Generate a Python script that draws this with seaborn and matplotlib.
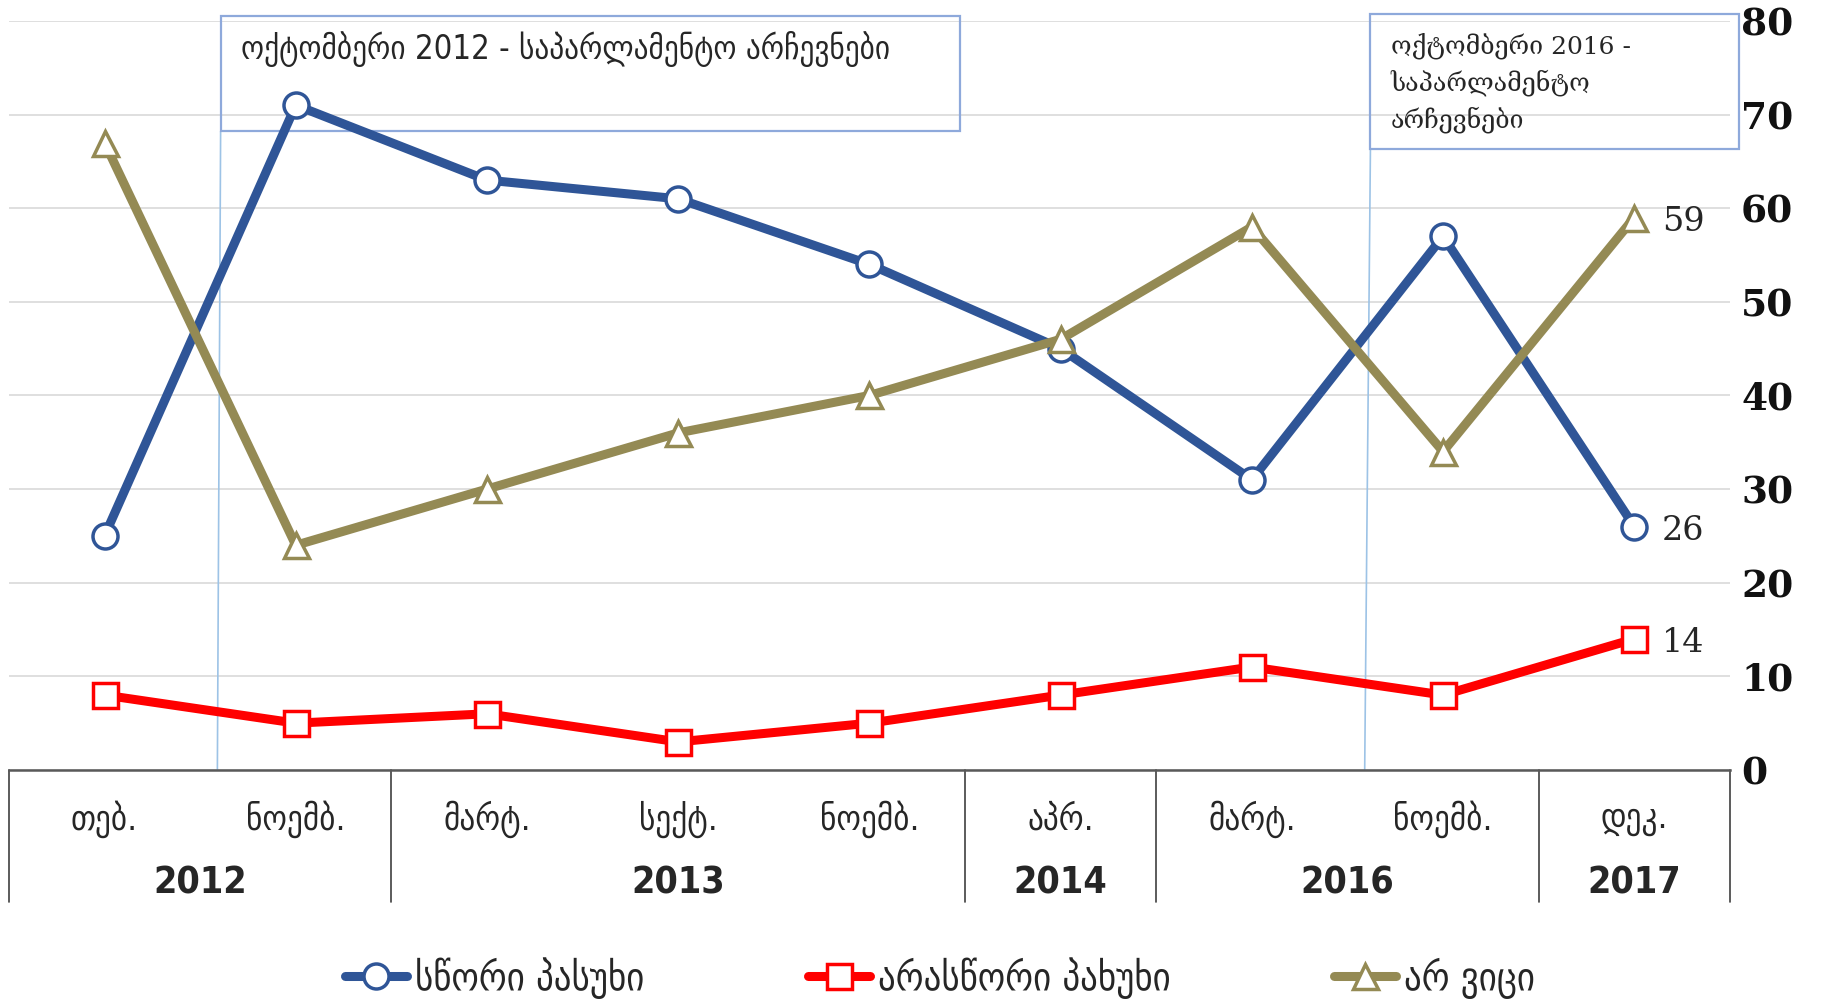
import numpy as np
import pandas as pd
import matplotlib
matplotlib.use("Agg")
import matplotlib.pyplot as plt
import matplotlib.transforms as mtransforms
from matplotlib.patches import Rectangle
from matplotlib.lines import Line2D
import seaborn as sns

# chart data
months = ["თებ.", "ნოემბ.", "მარტ.", "სექტ.", "ნოემბ.", "აპრ.", "მარტ.", "ნოემბ.", "დეკ."]
years = ["2012", "2013", "2014", "2016", "2017"]
year_spans = [(0, 1), (2, 4), (5, 5), (6, 7), (8, 8)]
correct = [25, 71, 63, 61, 54, 45, 31, 57, 26]
wrong = [8, 5, 6, 3, 5, 8, 11, 8, 14]
dont_know = [67, 24, 30, 36, 40, 46, 58, 34, 59]
series_names = ["სწორი პასუხი", "არასწორი პახუხი", "არ ვიცი"]
note_2012 = "ოქტომბერი 2012 - საპარლამენტო არჩევნები"
note_2016 = "ოქტომბერი 2016 -\nსაპარლამენტო\nარჩევნები"

colors = ["#2F5597", "#FF0000", "#948A54"]
markers = ["o", "s", "^"]

sns.set_theme(style="white")
plt.rcParams["font.family"] = ["DejaVu Serif", "DejaVu Sans"]

fig = plt.figure(figsize=(18.25, 10.01), dpi=100)
ax = fig.add_axes([0.0049, 0.2308, 0.9430, 0.7483])

x = np.arange(len(months))
for vals, name, c, m in zip([correct, wrong, dont_know], series_names, colors, markers):
    df = pd.DataFrame({"x": x, "y": vals})
    sns.lineplot(data=df, x="x", y="y", ax=ax, color=c, lw=6.5, marker=m,
                 markersize=18, markerfacecolor="white", markeredgecolor=c,
                 markeredgewidth=2.5, label=name, zorder=3, legend=False)

ax.set_xlim(-0.5, 8.5)
ax.set_ylim(0, 80)
ax.set_xlabel("")
ax.set_ylabel("")
ax.yaxis.tick_right()
ax.set_yticks(range(0, 81, 10))
ax.tick_params(axis="y", length=0, pad=8, labelsize=27, labelcolor="#111111")
for t in ax.get_yticklabels():
    t.set_fontweight("bold")
ax.grid(axis="y", color="#D9D9D9", lw=1.2)
for s in ["top", "right", "left"]:
    ax.spines[s].set_visible(False)
ax.spines["bottom"].set_color("#595959")
ax.spines["bottom"].set_linewidth(1.8)

# category table under the axis
ax.set_xticks([])
tr = mtransforms.blended_transform_factory(ax.transData, ax.transAxes)
cond = dict(family=["DejaVu Sans"], fontstretch="condensed")
for i, mth in enumerate(months):
    ax.text(i, -0.066, mth, transform=tr, ha="center", va="center", fontsize=25, **cond)
for yr, (a, b) in zip(years, year_spans):
    ax.text((a + b) / 2, -0.152, yr, transform=tr, ha="center", va="center",
            fontsize=27, fontweight="bold", **cond)
for sep in [-0.5, 1.5, 4.5, 5.5, 7.5, 8.5]:
    ax.plot([sep, sep], [0, -0.176], transform=tr, color="#404040", lw=1.2, clip_on=False)

# end labels
for vals in [correct, wrong, dont_know]:
    ax.annotate(str(vals[-1]), (8, vals[-1]), xytext=(20, -3), textcoords="offset points",
                ha="left", va="center", fontsize=24)

# election notes
box_c = "#8EA9DB"
ax.plot([0.59, 0.607], [0, 68.2], color="#9DC3E6", lw=1.2, zorder=1)
ax.add_patch(Rectangle((0.607, 68.2), 4.476 - 0.607, 80.5 - 68.2, fill=False,
                       edgecolor=box_c, lw=1.6, clip_on=False, zorder=2))
ax.text(0.712, 77.0, note_2012, ha="left", va="center", fontsize=23.5, **cond)

ax.plot([6.59, 6.62], [0, 66.35], color="#9DC3E6", lw=1.2, zorder=1)
ax.add_patch(Rectangle((6.62, 66.35), 8.55 - 6.62, 80.7 - 66.35, fill=False,
                       edgecolor=box_c, lw=1.6, clip_on=False, zorder=2))
ax.text(6.725, 73.4, note_2016, ha="left", va="center", fontsize=18, linespacing=1.5)

handles = [Line2D([], [], color=c, lw=6.5, marker=m, markersize=18, markerfacecolor="white",
                  markeredgecolor=c, markeredgewidth=2.5) for c, m in zip(colors, markers)]
fig.legend(handles, series_names, loc="center", bbox_to_anchor=(0.515, 0.023), ncol=3,
           frameon=False, handlelength=1.6, columnspacing=4.2, handletextpad=0.2,
           prop=dict(family="DejaVu Sans", stretch="condensed", size=28))

fig.savefig("out.png", dpi=100)
